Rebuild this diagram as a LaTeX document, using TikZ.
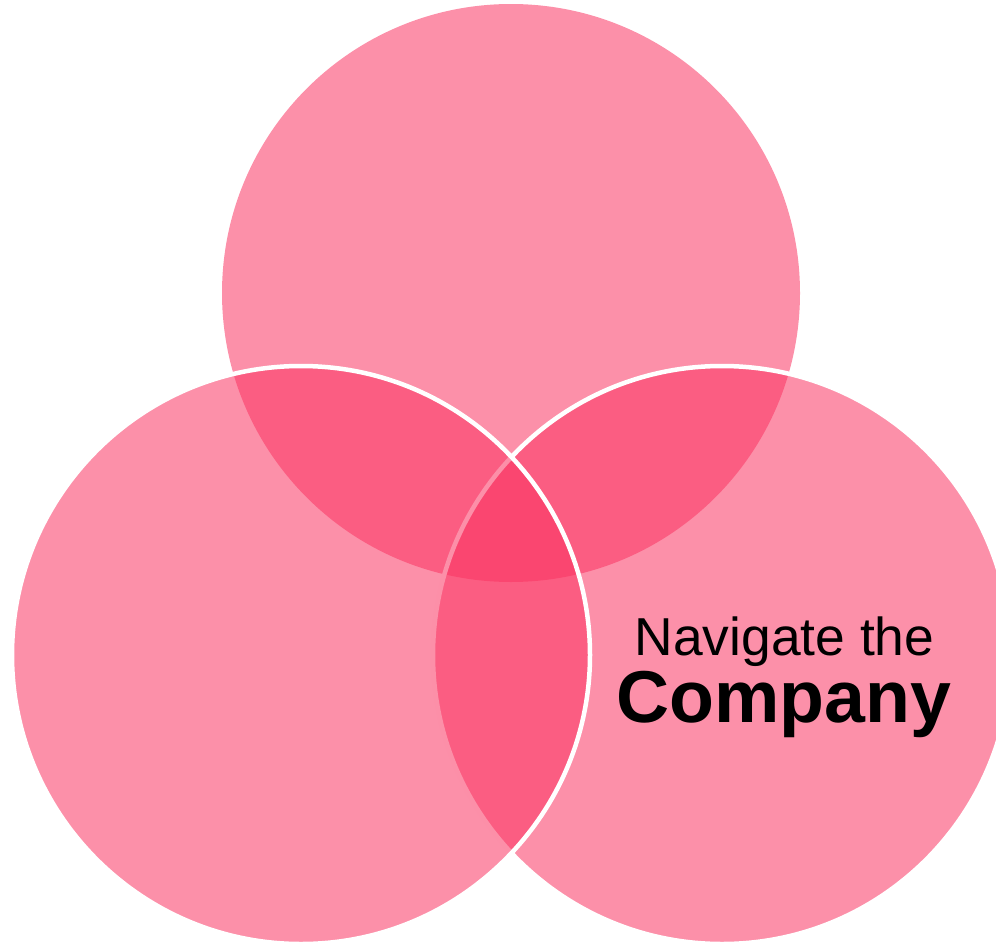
\documentclass[tikz,border=0pt]{standalone}
\usepackage{fontspec}
\setmainfont{Liberation Sans}
\definecolor{vennpink}{RGB}{250,52,98}
\begin{document}
\begin{tikzpicture}[x=1pt,y=-1pt,
  venn/.style={circle, inner sep=0pt, minimum size=578pt, fill=vennpink, fill opacity=0.55, draw=white, draw opacity=1, line width=4.5pt},
  lbl/.style={anchor=base, inner sep=0pt, text=black}]
\useasboundingbox (0,0) rectangle (996,945);
\clip (0,0) rectangle (996,945);
\node[venn, draw=none] (top) at (511,293) {};
\node[venn] (right) at (722,655) {};
\node[venn] (left) at (301,655) {};
\node[lbl, font=\fontsize{53.4}{60}\selectfont] (t1) at (784.5,655) {Navigate the};
\node[lbl, font=\fontsize{73.5}{80}\selectfont\bfseries] (t2) at (783.5,722) {Company};
\end{tikzpicture}
\end{document}
